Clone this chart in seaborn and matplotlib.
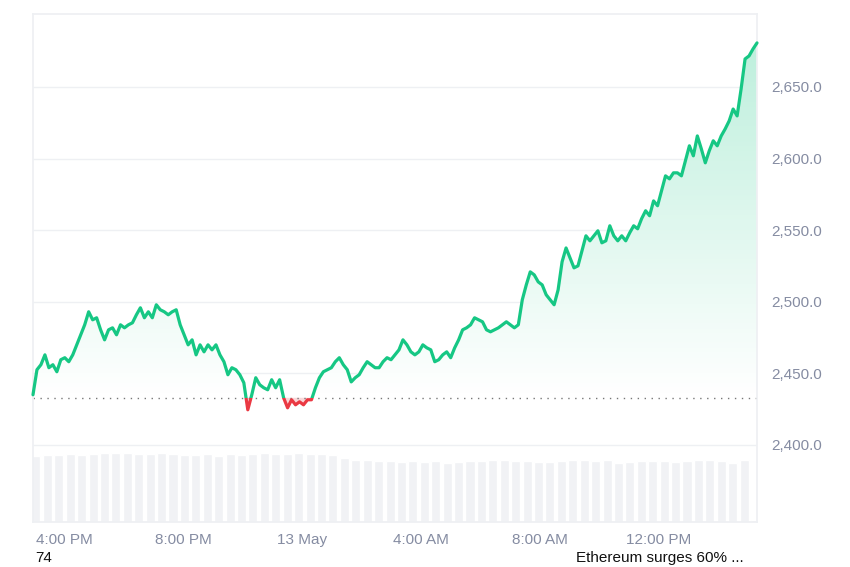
import numpy as np
import matplotlib.pyplot as plt
import seaborn as sns
from matplotlib.colors import LinearSegmentedColormap
from matplotlib.patches import Polygon, Rectangle

sns.set_theme(style='white')
plt.rcParams['font.family'] = ['Liberation Sans', 'DejaVu Sans']

# hours since 12 May 00:00
t_start, t_end = 14.95, 39.3
prices = [2434.9, 2452.4, 2455.9, 2462.8, 2453.8, 2455.9, 2451.0, 2459.4, 2460.8, 2458.0, 2462.8, 2469.8,
          2476.8, 2483.8, 2492.9, 2487.3, 2488.7, 2480.3, 2473.3, 2480.3, 2481.7, 2476.8, 2483.8, 2481.7,
          2483.8, 2485.2, 2490.8, 2495.7, 2488.7, 2492.9, 2488.7, 2497.8, 2494.3, 2492.9, 2490.8, 2492.9,
          2494.3, 2483.8, 2476.8, 2469.8, 2473.3, 2462.8, 2469.8, 2464.9, 2469.8, 2466.3, 2469.8, 2462.8,
          2458.0, 2448.9, 2453.8, 2452.4, 2448.9, 2443.3, 2424.4, 2434.9, 2446.8, 2441.9, 2439.8, 2438.4,
          2445.4, 2439.8, 2445.4, 2432.8, 2425.8, 2431.4, 2427.9, 2430.0, 2427.9, 2431.4, 2431.4, 2439.8,
          2446.8, 2451.0, 2452.4, 2453.8, 2458.0, 2460.8, 2455.9, 2452.4, 2443.9, 2446.8, 2448.9, 2453.8,
          2458.0, 2455.9, 2453.8, 2453.8, 2458.0, 2460.8, 2459.4, 2462.8, 2466.3, 2473.3, 2469.8, 2464.9,
          2462.8, 2464.9, 2469.8, 2467.7, 2466.3, 2458.0, 2459.4, 2462.8, 2464.9, 2460.8, 2467.7, 2473.3,
          2480.3, 2481.7, 2483.8, 2488.7, 2487.3, 2485.9, 2480.3, 2478.9, 2480.3, 2481.7, 2483.8, 2485.9,
          2483.8, 2481.7, 2483.8, 2501.3, 2511.7, 2520.8, 2518.7, 2513.8, 2511.7, 2504.8, 2501.3, 2497.8,
          2508.2, 2527.8, 2537.5, 2530.6, 2523.6, 2525.0, 2535.5, 2546.0, 2542.5, 2546.0, 2549.5, 2541.1,
          2542.5, 2553.0, 2546.0, 2542.5, 2546.0, 2542.5, 2548.1, 2553.0, 2550.9, 2558.0, 2563.5, 2560.0,
          2570.4, 2567.0, 2577.4, 2587.9, 2585.8, 2590.0, 2590.0, 2587.9, 2598.4, 2608.9, 2601.9, 2615.8,
          2606.8, 2597.0, 2605.4, 2612.4, 2608.9, 2615.8, 2620.7, 2626.3, 2634.6, 2629.8, 2648.6, 2669.6,
          2671.7, 2676.6, 2680.8]
baseline = 2432.8
volumes = [65, 66, 66, 67, 66, 67, 68, 68, 68, 67, 67, 68, 67, 66, 66, 67, 65, 67, 66, 67, 68, 67, 67, 68,
           67, 67, 66, 63, 61, 61, 60, 60, 59, 60, 59, 60, 58, 59, 60, 60, 61, 61, 60, 60, 59, 59, 60, 61,
           61, 60, 61, 58, 59, 60, 60, 60, 59, 60, 61, 61, 60, 58, 61, 2]
tick_hours = [16, 20, 24, 28, 32, 36]
tick_labels = ['4:00 PM', '8:00 PM', '13 May', '4:00 AM', '8:00 AM', '12:00 PM']
y_ticks = [2400, 2450, 2500, 2550, 2600, 2650]

green, red, grey = '#16c784', '#ea3943', '#858ca2'
t = np.linspace(t_start, t_end, len(prices))
p = np.array(prices)

fig = plt.figure(figsize=(8.5, 5.67), dpi=100)
ax = fig.add_axes([0.0388, 0.0794, 0.8518, 0.8959])
ymin, ymax = 2346, 2701

# volume bars on twin axis
axv = ax.twinx()
tv = np.linspace(t_start + 0.1, t_end - 0.05, len(volumes))
axv.bar(tv, volumes, width=(t_end - t_start) / len(volumes) * 0.8, color='#f1f2f5', zorder=0)
axv.set_ylim(0, max(volumes) * 7.4)
axv.axis('off')
ax.set_zorder(axv.get_zorder() + 1)
ax.patch.set_visible(False)

# gradient fill above baseline, clipped to the price area
cmap = LinearSegmentedColormap.from_list('g', ['#ffffff', green])
grad = np.linspace(0, 0.28, 256).reshape(-1, 1)
im = ax.imshow(grad, extent=[t_start, t_end, baseline, max(prices)], origin='lower', aspect='auto',
               cmap=cmap, vmin=0, vmax=1, zorder=1)
upper = np.maximum(p, baseline)
verts = np.column_stack([np.r_[t, t[::-1]], np.r_[upper, np.full(len(t), baseline)]])
clip = Polygon(verts, closed=True, transform=ax.transData, facecolor='none', edgecolor='none')
ax.add_patch(clip)
im.set_clip_path(clip)
ax.fill_between(t, baseline, p, where=p < baseline, interpolate=True, color=red, alpha=0.2, lw=0, zorder=1)

# line: green above baseline, red below
above = Rectangle((t_start - 1, baseline), 30, 1000, transform=ax.transData, fc='none', ec='none')
below = Rectangle((t_start - 1, baseline - 1000), 30, 1000, transform=ax.transData, fc='none', ec='none')
ax.add_patch(above)
ax.add_patch(below)
lg, = ax.plot(t, p, color=green, lw=2.3, zorder=3)
lg.set_clip_path(above)
lr, = ax.plot(t, p, color=red, lw=2.3, zorder=3)
lr.set_clip_path(below)
ax.axhline(baseline, color='#777', lw=1, ls=(0, (1, 4)), zorder=2)

ax.set_xlim(t_start, t_end)
ax.set_ylim(ymin, ymax)
ax.set_yticks(y_ticks)
ax.set_yticklabels([f'{v:,.1f}' for v in y_ticks])
ax.yaxis.tick_right()
ax.set_xticks(tick_hours)
ax.set_xticklabels(tick_labels)
ax.tick_params(colors=grey, labelsize=11, length=0, pad=8)
ax.tick_params(axis='y', pad=10)
ax.grid(axis='y', color='#eef0f3', lw=1)
for s in ax.spines.values():
    s.set_color('#eef0f3')

fig.text(0.041, 0.008, '74', fontsize=11, color='#111')
fig.text(0.678, 0.008, 'Ethereum surges 60% ...', fontsize=11, color='#111')
fig.savefig('out.png', dpi=100)
